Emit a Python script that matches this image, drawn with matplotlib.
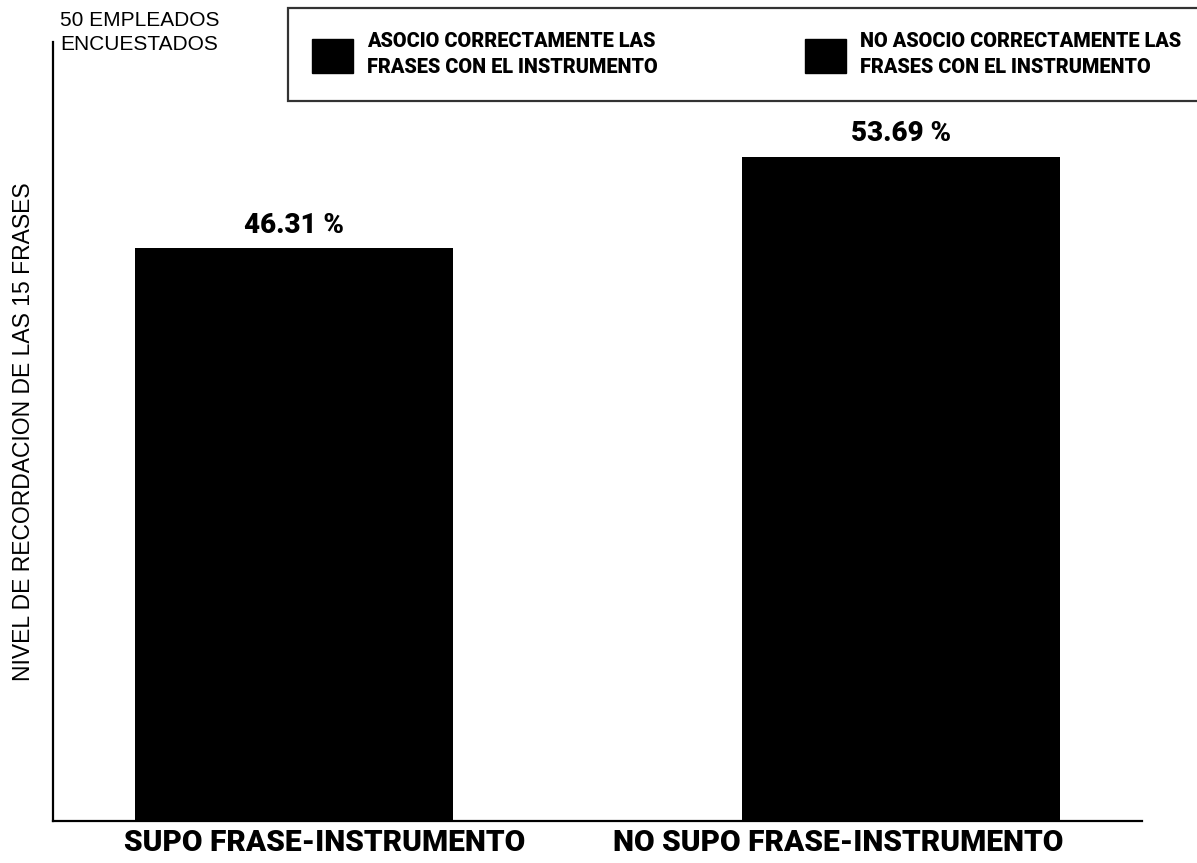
import matplotlib.pyplot as plt
from matplotlib.patches import Patch

# recall of the 15 phrases, 50 employees surveyed
categories = ['SUPO FRASE-INSTRUMENTO', 'NO SUPO FRASE-INSTRUMENTO']
values = [46.31, 53.69]
legend_labels = ['ASOCIO CORRECTAMENTE LAS\nFRASES CON EL INSTRUMENTO',
                 'NO ASOCIO CORRECTAMENTE LAS\nFRASES CON EL INSTRUMENTO']

light = 'Liberation Sans'
heavy = 'Roboto'

fig = plt.figure(figsize=(11.97, 8.63), dpi=100)
ax = fig.add_axes([0.0443, 0.0487, 0.9097, 0.9026])

x = list(range(len(values)))
bars = ax.bar(x, values, width=0.524, color='black')
ax.bar_label(bars, labels=['%.2f %%' % v for v in values], padding=7,
             fontsize=20, fontweight='black', family=heavy)

ax.set_xlim(-0.397, 1.397)
ax.set_ylim(0, 63)
ax.set_xticks([])
ax.set_yticks([])
for side in ['top', 'right']:
    ax.spines[side].set_visible(False)
for side in ['left', 'bottom']:
    ax.spines[side].set_linewidth(1.6)

ax.set_ylabel('NIVEL DE RECORDACION DE LAS 15 FRASES', fontsize=16.5,
              family=light, labelpad=13)

# category names sit a little off-centre under each bar
offsets = [22, -45]
for xi, name, dx in zip(x, categories, offsets):
    ax.annotate(name, (xi, 0), xytext=(dx, -6), textcoords='offset points',
                ha='center', va='top', fontsize=21.5, fontweight='black',
                family=heavy, annotation_clip=False)

fig.text(60 / 1197, 1 - 11 / 863, '50 EMPLEADOS\nENCUESTADOS', ha='left',
         va='top', fontsize=15, family=light, linespacing=1.3)

# legend box runs past the right edge of the figure
handles = [Patch(facecolor='black', edgecolor='black') for _ in legend_labels]
leg = fig.legend(handles, legend_labels, loc='upper left',
                 bbox_to_anchor=(288 / 1197, 0, 917 / 1197, 1 - 8 / 863),
                 mode='expand', ncol=2,
                 frameon=True, fancybox=False, edgecolor='black',
                 prop={'family': heavy, 'weight': 'black', 'size': 14.3},
                 handlelength=2.06, handleheight=2.3, handletextpad=0.7,
                 columnspacing=7.3, borderpad=1.22, borderaxespad=0)
leg.get_frame().set_linewidth(1.6)
for t in leg.get_texts():
    t.set_linespacing(1.45)

fig.savefig('out.png', dpi=100)
